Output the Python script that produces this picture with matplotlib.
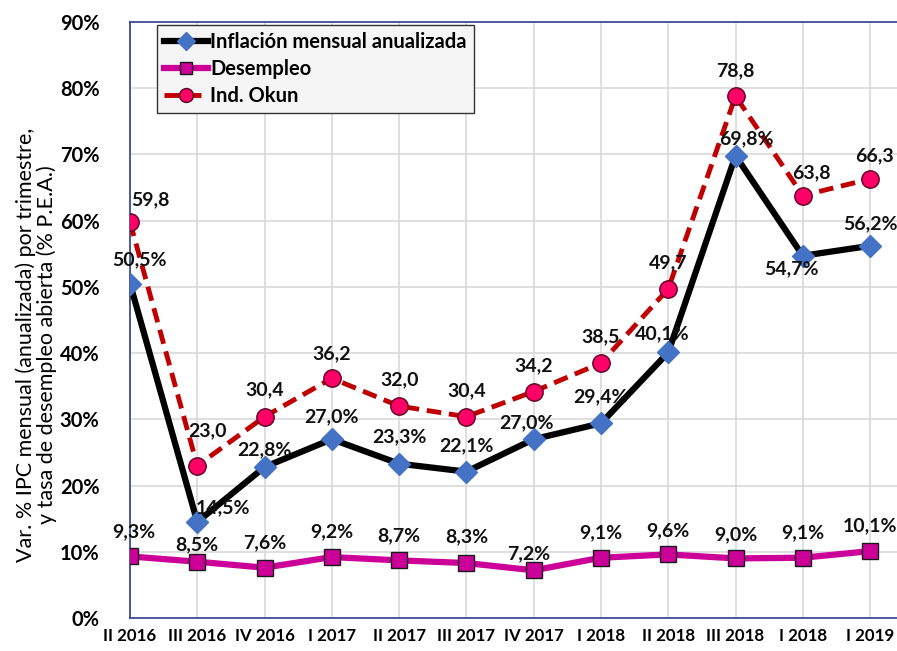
import matplotlib
matplotlib.use("Agg")
import matplotlib.pyplot as plt

plt.rcParams['font.family'] = ['Lato', 'DejaVu Sans']

categories = ["II 2016", "III 2016", "IV 2016", "I 2017", "II 2017", "III 2017",
              "IV 2017", "I 2018", "II 2018", "III 2018", "I 2018", "I 2019"]
inflacion = [50.5, 14.5, 22.8, 27.0, 23.3, 22.1, 27.0, 29.4, 40.1, 69.8, 54.7, 56.2]
desempleo = [9.3, 8.5, 7.6, 9.2, 8.7, 8.3, 7.2, 9.1, 9.6, 9.0, 9.1, 10.1]
okun = [59.8, 23.0, 30.4, 36.2, 32.0, 30.4, 34.2, 38.5, 49.7, 78.8, 63.8, 66.3]
yticks = [0, 10, 20, 30, 40, 50, 60, 70, 80, 90]

# label offsets in pixels (dx, dy up)
off_inf = [(9, 24), (26, 14), (0, 17), (0, 22), (0, 27), (0, 26), (-7, 16), (0, 27),
           (-6, 19), (11, 17), (-11, -13), (0, 22)]
off_des = [(4, 25), (0, 17), (0, 25), (0, 25), (0, 25), (0, 26), (-5, 17), (0, 25),
           (0, 24), (0, 24), (0, 25), (0, 25)]
off_oku = [(20, 22), (10, 35), (0, 27), (0, 25), (0, 26), (0, 26), (0, 26), (0, 26),
           (0, 26), (0, 25), (9, 23), (4, 23)]

W, H = 897, 651
fig = plt.figure(figsize=(W / 100, H / 100), dpi=100)
ax = fig.add_axes([130 / W, (651 - 618) / H, 767 / W, 596 / H])

x = list(range(len(categories)))
ax.plot(x, inflacion, color='black', lw=4.5, marker='D', ms=11,
        mfc='#4472C4', mec='#4472C4', zorder=4, label='Inflación mensual anualizada')
ax.plot(x, desempleo, color='#CC0099', lw=4.5, marker='s', ms=11.5,
        mfc='#CC0099', mec='#1a1a1a', mew=1.0, zorder=4, label='Desempleo')
ax.plot(x, okun, color='#C00000', lw=3.5, ls=(0, (3, 1.6)), marker='o', ms=12.5,
        mfc='#FF0066', mec='#5a0020', mew=1.0, zorder=5, label='Ind. Okun')

def fmt(v, pct):
    s = f"{v:.1f}".replace('.', ',')
    return s + '%' if pct else s

for series, offs, pct in [(inflacion, off_inf, True), (desempleo, off_des, True),
                          (okun, off_oku, False)]:
    for i, v in enumerate(series):
        dx, dy = offs[i]
        ax.annotate(fmt(v, pct), (i, v), xytext=(dx * 0.72, dy * 0.72),
                    textcoords='offset points', ha='center', va='center',
                    fontsize=14, fontweight='bold', color='#111111', zorder=6)

ax.set_xlim(0, 11.4)
ax.set_ylim(0, 90)
ax.set_xticks(x)
ax.set_xticklabels(categories, fontsize=12.2, fontweight='bold')
ax.set_yticks(yticks)
ax.set_yticklabels([f"{t}%" for t in yticks], fontsize=14.5, fontweight='bold')
ax.tick_params(axis='both', length=0)
ax.tick_params(axis='y', pad=22)
ax.tick_params(axis='x', pad=7)
ax.grid(True, color='#D9D9D9', lw=1.2)
ax.set_axisbelow(True)
for s in ['left', 'bottom', 'top']:
    ax.spines[s].set_color('#2F3F8F')
    ax.spines[s].set_linewidth(1.2)
ax.spines['right'].set_visible(False)

fig.text(36 / W, (651 - 345) / H,
         "Var. % IPC mensual (anualizada) por trimestre,\ny tasa de desempleo abierta (% P.E.A.)",
         rotation=90, ha='center', va='center', fontsize=15.5, linespacing=1.05)

leg = ax.legend(loc='upper left', bbox_to_anchor=((157 - 130) / 767, (618 - 25) / 596),
                prop={'weight': 'bold', 'size': 14.5}, frameon=True, fancybox=False,
                edgecolor='#333333', facecolor='#F5F5F5', framealpha=1,
                handlelength=2.2, handletextpad=0.1, borderpad=0.35, labelspacing=0.35,
                borderaxespad=0, markerscale=0.8)
leg.get_frame().set_linewidth(1.0)

fig.savefig('out.png', dpi=100)
